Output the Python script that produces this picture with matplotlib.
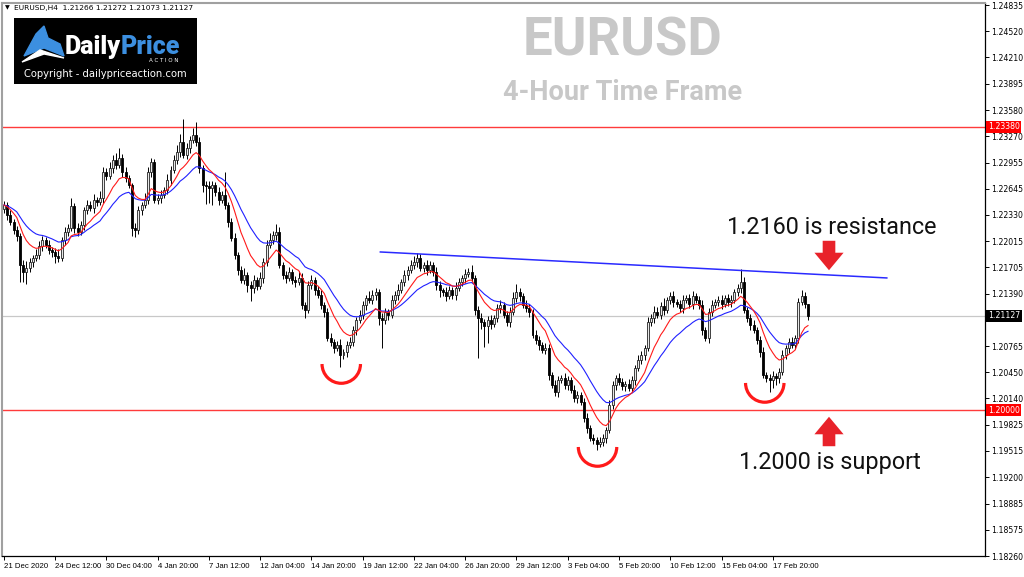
import numpy as np
import pandas as pd
import matplotlib
matplotlib.use("Agg")
import matplotlib.pyplot as plt
from matplotlib.patches import Arc, Polygon
import matplotlib.transforms as mtransforms

# EURUSD H4 closes, 21 Dec 2020 -> 18 Feb 2021
closes = [
    1.22449, 1.22329, 1.22246, 1.22150, 1.22079, 1.21733, 1.21649, 1.21697, 1.21769, 1.21816, 1.21852, 1.21959,
    1.22031, 1.21971, 1.21912, 1.21888, 1.21840, 1.21816, 1.22031, 1.22127, 1.22174, 1.22437, 1.22174, 1.22127,
    1.22210, 1.22389, 1.22449, 1.22413, 1.22508, 1.22485, 1.22532, 1.22843, 1.22795, 1.22890, 1.22986, 1.22926,
    1.23010, 1.22843, 1.22771, 1.22687, 1.22174, 1.22150, 1.22389, 1.22449, 1.22508, 1.22843, 1.22962, 1.22508,
    1.22532, 1.22568, 1.22628, 1.22747, 1.22866, 1.22986, 1.23081, 1.23200, 1.23045, 1.23129, 1.23224, 1.23284,
    1.23200, 1.22890, 1.22687, 1.22675, 1.22652, 1.22687, 1.22604, 1.22508, 1.22568, 1.22449, 1.22246, 1.22055,
    1.21852, 1.21673, 1.21554, 1.21613, 1.21494, 1.21458, 1.21554, 1.21482, 1.21578, 1.21769, 1.21971, 1.22031,
    1.22091, 1.22127, 1.21733, 1.21613, 1.21578, 1.21649, 1.21554, 1.21530, 1.21578, 1.21255, 1.21196, 1.21494,
    1.21554, 1.21434, 1.21375, 1.21255, 1.21172, 1.20862, 1.20814, 1.20742, 1.20778, 1.20659, 1.20695, 1.20778,
    1.20814, 1.20957, 1.21076, 1.21136, 1.21255, 1.21339, 1.21315, 1.21375, 1.21411, 1.21100, 1.21076, 1.21172,
    1.21136, 1.21315, 1.21375, 1.21434, 1.21530, 1.21613, 1.21673, 1.21733, 1.21769, 1.21816, 1.21697, 1.21733,
    1.21673, 1.21733, 1.21649, 1.21494, 1.21434, 1.21411, 1.21363, 1.21434, 1.21375, 1.21458, 1.21530, 1.21578,
    1.21625, 1.21649, 1.21578, 1.21196, 1.21100, 1.21053, 1.21005, 1.21076, 1.21029, 1.21100, 1.21220, 1.21255,
    1.21136, 1.21053, 1.21172, 1.21339, 1.21411, 1.21363, 1.21255, 1.21220, 1.21172, 1.20897, 1.20838, 1.20778,
    1.20718, 1.20742, 1.20420, 1.20301, 1.20217, 1.20360, 1.20384, 1.20301, 1.20360, 1.20241, 1.20146, 1.20181,
    1.20098, 1.19907, 1.19788, 1.19668, 1.19644, 1.19597, 1.19621, 1.19668, 1.19764, 1.20062, 1.20301, 1.20384,
    1.20337, 1.20289, 1.20313, 1.20265, 1.20360, 1.20504, 1.20599, 1.20659, 1.20742, 1.21053, 1.21100, 1.21172,
    1.21136, 1.21244, 1.21196, 1.21315, 1.21363, 1.21291, 1.21267, 1.21220, 1.21315, 1.21339, 1.21267, 1.21363,
    1.21315, 1.21255, 1.20957, 1.20862, 1.21172, 1.21255, 1.21291, 1.21315, 1.21267, 1.21339, 1.21291, 1.21315,
    1.21411, 1.21458, 1.21530, 1.21196, 1.21100, 1.21017, 1.20957, 1.20838, 1.20695, 1.20420, 1.20384, 1.20360,
    1.20408, 1.20384, 1.20456, 1.20659, 1.20742, 1.20814, 1.20778, 1.20862, 1.21291, 1.21363, 1.21266, 1.21127,
]
first_open = 1.22400

# wick lengths in pips above / below the body
upper_wick = [
    5, 4, 6, 3, 5, 4, 6, 8, 5, 4, 7, 6,   5, 4, 6, 3, 5, 8, 4, 6, 5, 10, 4, 6,
    5, 4, 6, 5, 7, 4, 8, 6, 5, 7, 6, 8,   12, 5, 6, 4, 3, 6, 5, 4, 8, 6, 5, 4,
    5, 6, 4, 7, 5, 6, 8, 10, 28, 6, 5, 8, 15, 6, 4, 5, 6, 5, 4, 6, 5, 27, 4, 5,
    6, 4, 5, 8, 4, 5, 6, 4, 7, 5, 6, 8,   5, 10, 6, 4, 5, 6, 4, 5, 8, 6, 4, 5,
    6, 4, 5, 6, 4, 5, 6, 3, 5, 7, 4, 5,   6, 5, 4, 6, 5, 4, 8, 6, 5, 4, 6, 5,
    4, 6, 5, 7, 4, 6, 5, 6, 7, 6, 5, 4,   6, 5, 4, 6, 5, 3, 6, 5, 4, 7, 5, 4,
    6, 5, 8, 4, 5, 6, 4, 5, 6, 4, 5, 6,   4, 5, 6, 7, 10, 5, 4, 6, 5, 4, 6, 5,
    4, 6, 5, 4, 6, 5, 4, 6, 5, 4, 6, 5,   4, 5, 6, 4, 5, 4, 6, 5, 4, 6, 5, 4,
    6, 5, 4, 6, 5, 4, 6, 5, 4, 6, 5, 7,   6, 5, 10, 4, 5, 6, 4, 5, 6, 4, 5, 6,
    4, 5, 6, 4, 5, 6, 4, 5, 6, 4, 5, 6,   4, 5, 15, 6, 4, 5, 6, 4, 5, 6, 4, 5,
    6, 4, 5, 6, 4, 5, 6, 4, 5, 7, 5, 0.6,
]
lower_wick = [
    5, 6, 4, 5, 6, 20, 12, 14, 5, 6, 4, 5,   6, 4, 5, 6, 8, 5, 4, 6, 5, 4, 6, 5,
    4, 6, 5, 4, 6, 5, 4, 6, 5, 4, 6, 5,      4, 6, 5, 4, 10, 8, 5, 6, 4, 5, 6, 4,
    5, 6, 4, 5, 6, 4, 5, 6, 4, 5, 6, 4,      5, 6, 8, 22, 18, 20, 5, 6, 4, 5, 6, 4,
    5, 6, 4, 5, 8, 15, 6, 5, 4, 6, 5, 4,     5, 6, 4, 5, 6, 4, 5, 6, 4, 5, 10, 4,
    5, 6, 4, 5, 6, 4, 5, 6, 4, 14, 5, 6,     4, 5, 6, 4, 5, 6, 4, 5, 6, 8, 33, 5,
    6, 4, 5, 6, 4, 5, 6, 4, 5, 6, 4, 5,      6, 4, 5, 6, 8, 5, 6, 4, 5, 6, 4, 5,
    6, 4, 5, 6, 48, 8, 25, 20, 6, 4, 5, 6,   4, 5, 6, 4, 5, 6, 4, 5, 6, 4, 5, 6,
    4, 5, 6, 4, 5, 6, 4, 5, 6, 4, 5, 6,      4, 5, 6, 4, 5, 7, 4, 5, 6, 4, 5, 6,
    4, 5, 6, 4, 5, 6, 4, 5, 6, 4, 5, 6,      4, 5, 6, 4, 5, 6, 4, 5, 6, 4, 5, 6,
    4, 5, 6, 4, 6, 5, 4, 5, 6, 4, 5, 6,      4, 5, 6, 4, 5, 6, 4, 5, 6, 4, 5, 14,
    10, 8, 6, 4, 5, 6, 4, 5, 6, 4, 5, 5.4,
]

date_labels = ["21 Dec 2020", "24 Dec 12:00", "30 Dec 04:00", "4 Jan 20:00", "7 Jan 12:00",
               "12 Jan 04:00", "14 Jan 20:00", "19 Jan 12:00", "22 Jan 04:00", "26 Jan 20:00",
               "29 Jan 12:00", "3 Feb 04:00", "5 Feb 20:00", "10 Feb 12:00", "15 Feb 04:00",
               "17 Feb 20:00"]
bars_per_label = 16

price_ticks = [1.24835, 1.24520, 1.24210, 1.23895, 1.23580, 1.23270, 1.22955, 1.22645,
               1.22330, 1.22015, 1.21705, 1.21390, 1.20765, 1.20450, 1.20140, 1.19825,
               1.19515, 1.19200, 1.18885, 1.18575, 1.18260]

resistance_level = 1.23380
support_level = 1.20000
last_price = 1.21127
header = "EURUSD,H4  1.21266 1.21272 1.21073 1.21127"

# drawn objects on the chart (bar index, price)
trend_bars = [117.5, 275.6]
trend_prices = [1.21888, 1.21578]
arc_bars = [105.3, 185.3, 237.5]
arc_prices = [1.20551, 1.19561, 1.20325]

# ---------------------------------------------------------------
close = np.array(closes)
opens = np.concatenate([[first_open], close[:-1]])
pip = 0.0001
highs = np.maximum(opens, close) + np.array(upper_wick) * pip
lows = np.minimum(opens, close) - np.array(lower_wick) * pip
x = np.arange(len(close))

ema_fast = pd.Series(close).ewm(span=10, adjust=False).mean()
ema_slow = pd.Series(close).ewm(span=21, adjust=False).mean()

W, H = 1024, 577
fig = plt.figure(figsize=(W / 100, H / 100), dpi=100)
fig.patch.set_facecolor("white")
ax = fig.add_axes([2 / W, 1 - 556 / H, 983 / W, 553 / H])
ax.set_xlim(-0.6, 306.25)
ax.set_ylim(1.18260, 1.24859)

# background lines
ax.axhline(resistance_level, color="#ff3b3b", lw=1.0, zorder=1)
ax.axhline(support_level, color="#ff3b3b", lw=1.0, zorder=1)
ax.axhline(last_price, color="#c8c8c8", lw=0.9, zorder=1)

# candles
ax.vlines(x, lows, highs, color="black", lw=0.7, zorder=2)
up = close >= opens
body_low = np.minimum(opens, close)
body_h = np.maximum(np.abs(close - opens), 0.00003)
ax.bar(x[up], body_h[up], bottom=body_low[up], width=0.62, color="#e8e8e8",
       edgecolor="#222222", linewidth=0.6, zorder=3)
ax.bar(x[~up], body_h[~up], bottom=body_low[~up], width=0.62, color="black",
       edgecolor="black", linewidth=0.6, zorder=3)

ax.plot(x, ema_slow, color="#2020ff", lw=0.8, zorder=4)
ax.plot(x, ema_fast, color="#ff1a1a", lw=0.8, zorder=4)

# trendline and swing-low arcs
ax.plot(trend_bars, trend_prices, color="#2a2aff", lw=1.1, zorder=5)
for b, p in zip(arc_bars, arc_prices):
    ax.add_patch(Arc((b, p), 12.0, 0.0046, theta1=180, theta2=360,
                     color="#ff1a1a", lw=2.3, zorder=6))

# axes styling
for s in ["left", "top"]:
    ax.spines[s].set_color("#a0a0a0")
    ax.spines[s].set_linewidth(1.5)
for s in ["right", "bottom"]:
    ax.spines[s].set_color("black")
    ax.spines[s].set_linewidth(0.9)

ax.yaxis.tick_right()
ax.set_yticks(price_ticks)
ax.set_yticklabels([f"{p:.5f}" for p in price_ticks], fontsize=5.6, family="DejaVu Sans")
ax.tick_params(axis="y", length=3, width=0.7, pad=1.5)
ax.set_xticks(np.arange(len(date_labels)) * bars_per_label)
ax.set_xticklabels(date_labels, fontsize=5.6, ha="left", family="Liberation Sans")
ax.tick_params(axis="x", length=3, width=0.7, pad=2)

blend = mtransforms.blended_transform_factory(ax.transAxes, ax.transData)
for val, bg in [(resistance_level, "#ff0000"), (support_level, "#ff0000"), (last_price, "black")]:
    ax.text(1.003, val, f"{val:.5f}", transform=blend, fontsize=5.6, color="white",
            va="center", ha="left", zorder=10,
            bbox=dict(facecolor=bg, edgecolor="none", pad=1.2))

# header and titles
fig.text(5 / W, 1 - 8 / H, "\u25bc", fontsize=4.5, va="center", ha="left")
fig.text(14 / W, 1 - 8 / H, header, fontsize=5.4, va="center", ha="left")
fig.text(623 / W, 1 - 41 / H, "EURUSD", fontsize=38, fontweight="bold", color="#c8c8c8",
         family="Roboto", ha="center", va="center")
fig.text(623 / W, 1 - 92 / H, "4-Hour Time Frame", fontsize=19.5, fontweight="bold",
         color="#c8c8c8", family="Roboto", ha="center", va="center")

fig.text(832 / W, 1 - 228 / H, "1.2160 is resistance", fontsize=16.8, family="Roboto",
         ha="center", va="center", color="#111111")
fig.text(830 / W, 1 - 462 / H, "1.2000 is support", fontsize=16.8, family="Roboto",
         ha="center", va="center", color="#111111")

arrow_kw = dict(arrowstyle="simple,head_length=0.9,head_width=1.5,tail_width=0.65",
                color="#e8222a", lw=0, mutation_scale=14)
ax.annotate("", xy=(829, H - 273), xytext=(829, H - 238), xycoords="figure pixels",
            textcoords="figure pixels", arrowprops=arrow_kw, zorder=12)
ax.annotate("", xy=(829, H - 414), xytext=(829, H - 449), xycoords="figure pixels",
            textcoords="figure pixels", arrowprops=arrow_kw, zorder=12)

# logo box
lg = fig.add_axes([14 / W, 1 - 84 / H, 183 / W, 66 / H])
lg.set_xlim(0, 183)
lg.set_ylim(66, 0)
lg.set_facecolor("black")
lg.set_xticks([])
lg.set_yticks([])
for s in lg.spines.values():
    s.set_visible(False)
lg.add_patch(Polygon([[10, 38], [22, 16], [30, 8], [34, 20], [46, 26], [50, 38], [30, 30]],
                     closed=True, color="#3c8fe0"))
lg.add_patch(Polygon([[8, 44], [26, 32], [50, 40], [30, 36]], closed=True, color="white"))
lg.text(107, 29, "Daily", fontsize=18, fontweight="heavy", color="white", family="Roboto",
        va="center", ha="right")
lg.text(107, 29, "Price", fontsize=18, fontweight="heavy", color="#3c8fe0", family="Roboto",
        va="center", ha="left")
lg.text(150, 43, "A C T I O N", fontsize=4, color="white", va="center", ha="center")
lg.text(91, 56, "Copyright - dailypriceaction.com", fontsize=7.2, color="white",
        va="center", ha="center", family="DejaVu Sans")

fig.savefig("out.png", dpi=100)
